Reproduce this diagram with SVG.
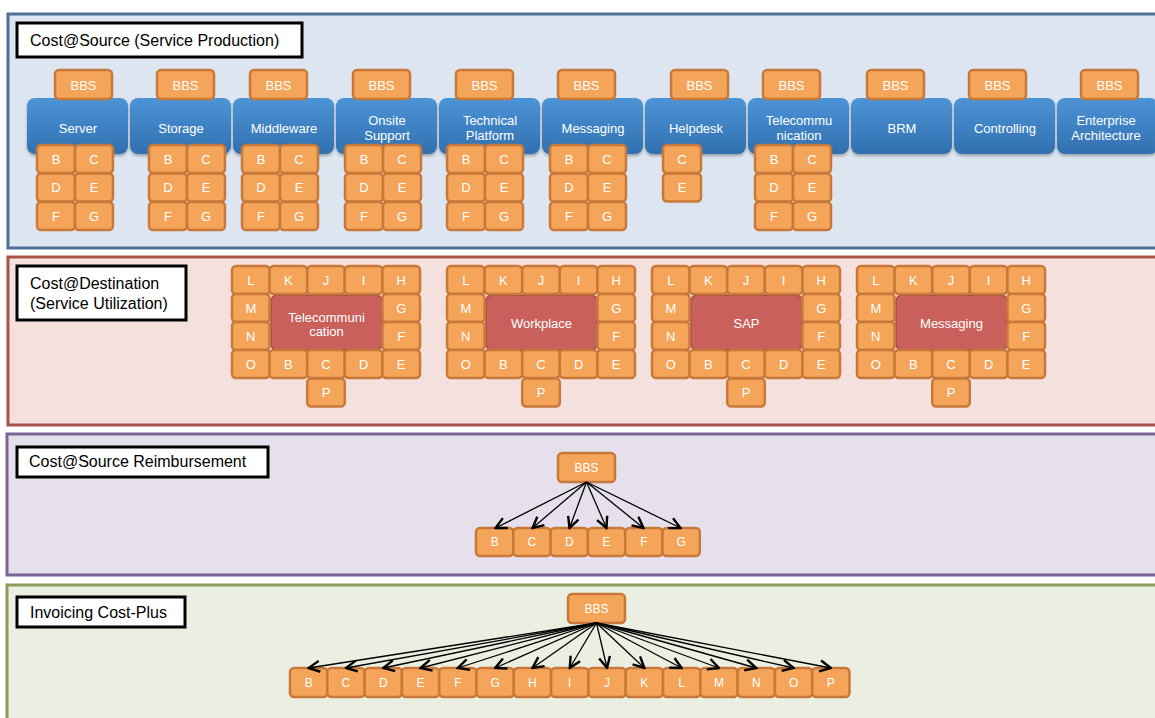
<svg xmlns="http://www.w3.org/2000/svg" width="1155" height="718" viewBox="0 0 1155 718">
<defs>
<linearGradient id="bg" x1="0" y1="0" x2="0" y2="1">
<stop offset="0" stop-color="#4c94d6"/>
<stop offset="1" stop-color="#3170b0"/>
</linearGradient>
<filter id="sh" x="-10%" y="-10%" width="120%" height="130%">
<feDropShadow dx="0" dy="2" stdDeviation="1.5" flood-color="#000" flood-opacity="0.3"/>
</filter>
<marker id="ah" viewBox="0 0 14 14" refX="12.5" refY="7" markerWidth="14" markerHeight="14" markerUnits="userSpaceOnUse" orient="auto">
<path d="M1.5,1.5 L12.5,7 L1.5,12.5" fill="none" stroke="#000" stroke-width="2.4"/>
</marker>
<style>
.o{fill:#f5a55a;stroke:#c8793a;stroke-width:2.5}
.t{font-family:"Liberation Sans",Arial,sans-serif;fill:#fff;text-anchor:middle;dominant-baseline:central;font-size:13px}
.s{font-size:12px}
.b{fill:url(#bg);filter:url(#sh)}
.ti{fill:#fff;stroke:#000;stroke-width:3}
.tt{font-family:"Liberation Sans",Arial,sans-serif;fill:#000;font-size:16px}
.c{fill:#c9605b;stroke:#a44c47;stroke-width:1.5}
.ar{stroke:#000;stroke-width:1.3;fill:none;marker-end:url(#ah)}
</style>
</defs>

<!-- sections -->
<rect x="8" y="14" width="1155" height="234" fill="#dde6f0" stroke="#4e6f98" stroke-width="3"/>
<rect x="8" y="257" width="1155" height="168" fill="#f4e0dd" stroke="#a9524c" stroke-width="3"/>
<rect x="7" y="434" width="1155" height="141" fill="#e5e0eb" stroke="#7a6395" stroke-width="3"/>
<rect x="7" y="585" width="1155" height="140" fill="#ebefe1" stroke="#8b9c59" stroke-width="3"/>

<!-- titles -->
<g id="title1"><rect class="ti" x="17" y="23" width="285" height="34"/><text class="tt" x="30" y="46">Cost@Source (Service Production)</text></g>
<g id="title2"><rect class="ti" x="17" y="266" width="169" height="54"/><text class="tt" x="30" y="289">Cost@Destination</text><text class="tt" x="30" y="309">(Service Utilization)</text></g>
<g id="title3"><rect class="ti" x="17" y="447" width="251" height="30"/><text class="tt" x="29" y="467">Cost@Source Reimbursement</text></g>
<g id="title4"><rect class="ti" x="17" y="597" width="168" height="30"/><text class="tt" x="30" y="618">Invoicing Cost-Plus</text></g>

<!-- section 1: services -->
<g id="svc-server">
<rect class="b" x="27" y="98" width="101" height="56" rx="8"/>
<text class="t" x="78" y="128">Server</text>
<rect class="o" x="55" y="70" width="57" height="29" rx="4"/><text class="t" x="83.5" y="85">BBS</text>
<rect class="o" x="37" y="145" width="38" height="28" rx="4"/><text class="t" x="56" y="159">B</text>
<rect class="o" x="75" y="145" width="38" height="28" rx="4"/><text class="t" x="94" y="159">C</text>
<rect class="o" x="37" y="173.5" width="38" height="28" rx="4"/><text class="t" x="56" y="187.5">D</text>
<rect class="o" x="75" y="173.5" width="38" height="28" rx="4"/><text class="t" x="94" y="187.5">E</text>
<rect class="o" x="37" y="202" width="38" height="28" rx="4"/><text class="t" x="56" y="216">F</text>
<rect class="o" x="75" y="202" width="38" height="28" rx="4"/><text class="t" x="94" y="216">G</text>
</g>
<g id="svc-storage">
<rect class="b" x="130" y="98" width="101" height="56" rx="8"/>
<text class="t" x="181" y="128">Storage</text>
<rect class="o" x="157" y="70" width="57" height="29" rx="4"/><text class="t" x="185.5" y="85">BBS</text>
<rect class="o" x="149" y="145" width="38" height="28" rx="4"/><text class="t" x="168" y="159">B</text>
<rect class="o" x="187" y="145" width="38" height="28" rx="4"/><text class="t" x="206" y="159">C</text>
<rect class="o" x="149" y="173.5" width="38" height="28" rx="4"/><text class="t" x="168" y="187.5">D</text>
<rect class="o" x="187" y="173.5" width="38" height="28" rx="4"/><text class="t" x="206" y="187.5">E</text>
<rect class="o" x="149" y="202" width="38" height="28" rx="4"/><text class="t" x="168" y="216">F</text>
<rect class="o" x="187" y="202" width="38" height="28" rx="4"/><text class="t" x="206" y="216">G</text>
</g>
<g id="svc-middleware">
<rect class="b" x="233" y="98" width="101" height="56" rx="8"/>
<text class="t" x="284" y="128">Middleware</text>
<rect class="o" x="250" y="70" width="57" height="29" rx="4"/><text class="t" x="278.5" y="85">BBS</text>
<rect class="o" x="242" y="145" width="38" height="28" rx="4"/><text class="t" x="261" y="159">B</text>
<rect class="o" x="280" y="145" width="38" height="28" rx="4"/><text class="t" x="299" y="159">C</text>
<rect class="o" x="242" y="173.5" width="38" height="28" rx="4"/><text class="t" x="261" y="187.5">D</text>
<rect class="o" x="280" y="173.5" width="38" height="28" rx="4"/><text class="t" x="299" y="187.5">E</text>
<rect class="o" x="242" y="202" width="38" height="28" rx="4"/><text class="t" x="261" y="216">F</text>
<rect class="o" x="280" y="202" width="38" height="28" rx="4"/><text class="t" x="299" y="216">G</text>
</g>
<g id="svc-onsite">
<rect class="b" x="336" y="98" width="101" height="56" rx="8"/>
<text class="t" x="387" y="120">Onsite</text><text class="t" x="387" y="135">Support</text>
<rect class="o" x="353" y="70" width="57" height="29" rx="4"/><text class="t" x="381.5" y="85">BBS</text>
<rect class="o" x="345" y="145" width="38" height="28" rx="4"/><text class="t" x="364" y="159">B</text>
<rect class="o" x="383" y="145" width="38" height="28" rx="4"/><text class="t" x="402" y="159">C</text>
<rect class="o" x="345" y="173.5" width="38" height="28" rx="4"/><text class="t" x="364" y="187.5">D</text>
<rect class="o" x="383" y="173.5" width="38" height="28" rx="4"/><text class="t" x="402" y="187.5">E</text>
<rect class="o" x="345" y="202" width="38" height="28" rx="4"/><text class="t" x="364" y="216">F</text>
<rect class="o" x="383" y="202" width="38" height="28" rx="4"/><text class="t" x="402" y="216">G</text>
</g>
<g id="svc-technical">
<rect class="b" x="439" y="98" width="101" height="56" rx="8"/>
<text class="t" x="490" y="120">Technical</text><text class="t" x="490" y="135">Platform</text>
<rect class="o" x="456" y="70" width="57" height="29" rx="4"/><text class="t" x="484.5" y="85">BBS</text>
<rect class="o" x="447" y="145" width="38" height="28" rx="4"/><text class="t" x="466" y="159">B</text>
<rect class="o" x="485" y="145" width="38" height="28" rx="4"/><text class="t" x="504" y="159">C</text>
<rect class="o" x="447" y="173.5" width="38" height="28" rx="4"/><text class="t" x="466" y="187.5">D</text>
<rect class="o" x="485" y="173.5" width="38" height="28" rx="4"/><text class="t" x="504" y="187.5">E</text>
<rect class="o" x="447" y="202" width="38" height="28" rx="4"/><text class="t" x="466" y="216">F</text>
<rect class="o" x="485" y="202" width="38" height="28" rx="4"/><text class="t" x="504" y="216">G</text>
</g>
<g id="svc-messaging">
<rect class="b" x="542" y="98" width="101" height="56" rx="8"/>
<text class="t" x="593" y="128">Messaging</text>
<rect class="o" x="558" y="70" width="57" height="29" rx="4"/><text class="t" x="586.5" y="85">BBS</text>
<rect class="o" x="550" y="145" width="38" height="28" rx="4"/><text class="t" x="569" y="159">B</text>
<rect class="o" x="588" y="145" width="38" height="28" rx="4"/><text class="t" x="607" y="159">C</text>
<rect class="o" x="550" y="173.5" width="38" height="28" rx="4"/><text class="t" x="569" y="187.5">D</text>
<rect class="o" x="588" y="173.5" width="38" height="28" rx="4"/><text class="t" x="607" y="187.5">E</text>
<rect class="o" x="550" y="202" width="38" height="28" rx="4"/><text class="t" x="569" y="216">F</text>
<rect class="o" x="588" y="202" width="38" height="28" rx="4"/><text class="t" x="607" y="216">G</text>
</g>
<g id="svc-helpdesk">
<rect class="b" x="645" y="98" width="101" height="56" rx="8"/>
<text class="t" x="696" y="128">Helpdesk</text>
<rect class="o" x="671" y="70" width="57" height="29" rx="4"/><text class="t" x="699.5" y="85">BBS</text>
<rect class="o" x="663" y="145" width="38" height="28" rx="4"/><text class="t" x="682" y="159">C</text>
<rect class="o" x="663" y="173.5" width="38" height="28" rx="4"/><text class="t" x="682" y="187.5">E</text>
</g>
<g id="svc-telecom">
<rect class="b" x="748" y="98" width="101" height="56" rx="8"/>
<text class="t" x="799" y="120">Telecommu</text><text class="t" x="799" y="135">nication</text>
<rect class="o" x="763" y="70" width="57" height="29" rx="4"/><text class="t" x="791.5" y="85">BBS</text>
<rect class="o" x="755" y="145" width="38" height="28" rx="4"/><text class="t" x="774" y="159">B</text>
<rect class="o" x="793" y="145" width="38" height="28" rx="4"/><text class="t" x="812" y="159">C</text>
<rect class="o" x="755" y="173.5" width="38" height="28" rx="4"/><text class="t" x="774" y="187.5">D</text>
<rect class="o" x="793" y="173.5" width="38" height="28" rx="4"/><text class="t" x="812" y="187.5">E</text>
<rect class="o" x="755" y="202" width="38" height="28" rx="4"/><text class="t" x="774" y="216">F</text>
<rect class="o" x="793" y="202" width="38" height="28" rx="4"/><text class="t" x="812" y="216">G</text>
</g>
<g id="svc-brm">
<rect class="b" x="851" y="98" width="101" height="56" rx="8"/>
<text class="t" x="902" y="128">BRM</text>
<rect class="o" x="867" y="70" width="57" height="29" rx="4"/><text class="t" x="895.5" y="85">BBS</text>
</g>
<g id="svc-controlling">
<rect class="b" x="954" y="98" width="101" height="56" rx="8"/>
<text class="t" x="1005" y="128">Controlling</text>
<rect class="o" x="969" y="70" width="57" height="29" rx="4"/><text class="t" x="997.5" y="85">BBS</text>
</g>
<g id="svc-ea">
<rect class="b" x="1057" y="98" width="101" height="56" rx="8"/>
<text class="t" x="1106" y="120">Enterprise</text><text class="t" x="1106" y="135">Architecture</text>
<rect class="o" x="1081" y="70" width="57" height="29" rx="4"/><text class="t" x="1109.5" y="85">BBS</text>
</g>

<!-- section 2: destinations -->
<g id="dest-telecom" transform="translate(232,0)">
<rect class="c" x="39" y="295" width="111" height="55" rx="6"/>
<text class="t" x="94.5" y="317">Telecommuni</text><text class="t" x="94.5" y="331">cation</text>
<rect class="o" x="0" y="266" width="37.6" height="28" rx="4"/><text class="t" x="18.8" y="280">L</text>
<rect class="o" x="37.6" y="266" width="37.6" height="28" rx="4"/><text class="t" x="56.4" y="280">K</text>
<rect class="o" x="75.2" y="266" width="37.6" height="28" rx="4"/><text class="t" x="94" y="280">J</text>
<rect class="o" x="112.8" y="266" width="37.6" height="28" rx="4"/><text class="t" x="131.6" y="280">I</text>
<rect class="o" x="150.4" y="266" width="37.6" height="28" rx="4"/><text class="t" x="169.2" y="280">H</text>
<rect class="o" x="0" y="294" width="37.6" height="28" rx="4"/><text class="t" x="18.8" y="308">M</text>
<rect class="o" x="150.4" y="294" width="37.6" height="28" rx="4"/><text class="t" x="169.2" y="308">G</text>
<rect class="o" x="0" y="322" width="37.6" height="28" rx="4"/><text class="t" x="18.8" y="336">N</text>
<rect class="o" x="150.4" y="322" width="37.6" height="28" rx="4"/><text class="t" x="169.2" y="336">F</text>
<rect class="o" x="0" y="350" width="37.6" height="28" rx="4"/><text class="t" x="18.8" y="364">O</text>
<rect class="o" x="37.6" y="350" width="37.6" height="28" rx="4"/><text class="t" x="56.4" y="364">B</text>
<rect class="o" x="75.2" y="350" width="37.6" height="28" rx="4"/><text class="t" x="94" y="364">C</text>
<rect class="o" x="112.8" y="350" width="37.6" height="28" rx="4"/><text class="t" x="131.6" y="364">D</text>
<rect class="o" x="150.4" y="350" width="37.6" height="28" rx="4"/><text class="t" x="169.2" y="364">E</text>
<rect class="o" x="75.2" y="378.5" width="37.6" height="28" rx="4"/><text class="t" x="94" y="392.5">P</text>
</g>
<g id="dest-workplace" transform="translate(447,0)">
<rect class="c" x="39" y="295" width="111" height="55" rx="6"/>
<text class="t" x="94.5" y="323.5">Workplace</text>
<rect class="o" x="0" y="266" width="37.6" height="28" rx="4"/><text class="t" x="18.8" y="280">L</text>
<rect class="o" x="37.6" y="266" width="37.6" height="28" rx="4"/><text class="t" x="56.4" y="280">K</text>
<rect class="o" x="75.2" y="266" width="37.6" height="28" rx="4"/><text class="t" x="94" y="280">J</text>
<rect class="o" x="112.8" y="266" width="37.6" height="28" rx="4"/><text class="t" x="131.6" y="280">I</text>
<rect class="o" x="150.4" y="266" width="37.6" height="28" rx="4"/><text class="t" x="169.2" y="280">H</text>
<rect class="o" x="0" y="294" width="37.6" height="28" rx="4"/><text class="t" x="18.8" y="308">M</text>
<rect class="o" x="150.4" y="294" width="37.6" height="28" rx="4"/><text class="t" x="169.2" y="308">G</text>
<rect class="o" x="0" y="322" width="37.6" height="28" rx="4"/><text class="t" x="18.8" y="336">N</text>
<rect class="o" x="150.4" y="322" width="37.6" height="28" rx="4"/><text class="t" x="169.2" y="336">F</text>
<rect class="o" x="0" y="350" width="37.6" height="28" rx="4"/><text class="t" x="18.8" y="364">O</text>
<rect class="o" x="37.6" y="350" width="37.6" height="28" rx="4"/><text class="t" x="56.4" y="364">B</text>
<rect class="o" x="75.2" y="350" width="37.6" height="28" rx="4"/><text class="t" x="94" y="364">C</text>
<rect class="o" x="112.8" y="350" width="37.6" height="28" rx="4"/><text class="t" x="131.6" y="364">D</text>
<rect class="o" x="150.4" y="350" width="37.6" height="28" rx="4"/><text class="t" x="169.2" y="364">E</text>
<rect class="o" x="75.2" y="378.5" width="37.6" height="28" rx="4"/><text class="t" x="94" y="392.5">P</text>
</g>
<g id="dest-sap" transform="translate(652,0)">
<rect class="c" x="39" y="295" width="111" height="55" rx="6"/>
<text class="t" x="94.5" y="323.5">SAP</text>
<rect class="o" x="0" y="266" width="37.6" height="28" rx="4"/><text class="t" x="18.8" y="280">L</text>
<rect class="o" x="37.6" y="266" width="37.6" height="28" rx="4"/><text class="t" x="56.4" y="280">K</text>
<rect class="o" x="75.2" y="266" width="37.6" height="28" rx="4"/><text class="t" x="94" y="280">J</text>
<rect class="o" x="112.8" y="266" width="37.6" height="28" rx="4"/><text class="t" x="131.6" y="280">I</text>
<rect class="o" x="150.4" y="266" width="37.6" height="28" rx="4"/><text class="t" x="169.2" y="280">H</text>
<rect class="o" x="0" y="294" width="37.6" height="28" rx="4"/><text class="t" x="18.8" y="308">M</text>
<rect class="o" x="150.4" y="294" width="37.6" height="28" rx="4"/><text class="t" x="169.2" y="308">G</text>
<rect class="o" x="0" y="322" width="37.6" height="28" rx="4"/><text class="t" x="18.8" y="336">N</text>
<rect class="o" x="150.4" y="322" width="37.6" height="28" rx="4"/><text class="t" x="169.2" y="336">F</text>
<rect class="o" x="0" y="350" width="37.6" height="28" rx="4"/><text class="t" x="18.8" y="364">O</text>
<rect class="o" x="37.6" y="350" width="37.6" height="28" rx="4"/><text class="t" x="56.4" y="364">B</text>
<rect class="o" x="75.2" y="350" width="37.6" height="28" rx="4"/><text class="t" x="94" y="364">C</text>
<rect class="o" x="112.8" y="350" width="37.6" height="28" rx="4"/><text class="t" x="131.6" y="364">D</text>
<rect class="o" x="150.4" y="350" width="37.6" height="28" rx="4"/><text class="t" x="169.2" y="364">E</text>
<rect class="o" x="75.2" y="378.5" width="37.6" height="28" rx="4"/><text class="t" x="94" y="392.5">P</text>
</g>
<g id="dest-messaging" transform="translate(857,0)">
<rect class="c" x="39" y="295" width="111" height="55" rx="6"/>
<text class="t" x="94.5" y="323.5">Messaging</text>
<rect class="o" x="0" y="266" width="37.6" height="28" rx="4"/><text class="t" x="18.8" y="280">L</text>
<rect class="o" x="37.6" y="266" width="37.6" height="28" rx="4"/><text class="t" x="56.4" y="280">K</text>
<rect class="o" x="75.2" y="266" width="37.6" height="28" rx="4"/><text class="t" x="94" y="280">J</text>
<rect class="o" x="112.8" y="266" width="37.6" height="28" rx="4"/><text class="t" x="131.6" y="280">I</text>
<rect class="o" x="150.4" y="266" width="37.6" height="28" rx="4"/><text class="t" x="169.2" y="280">H</text>
<rect class="o" x="0" y="294" width="37.6" height="28" rx="4"/><text class="t" x="18.8" y="308">M</text>
<rect class="o" x="150.4" y="294" width="37.6" height="28" rx="4"/><text class="t" x="169.2" y="308">G</text>
<rect class="o" x="0" y="322" width="37.6" height="28" rx="4"/><text class="t" x="18.8" y="336">N</text>
<rect class="o" x="150.4" y="322" width="37.6" height="28" rx="4"/><text class="t" x="169.2" y="336">F</text>
<rect class="o" x="0" y="350" width="37.6" height="28" rx="4"/><text class="t" x="18.8" y="364">O</text>
<rect class="o" x="37.6" y="350" width="37.6" height="28" rx="4"/><text class="t" x="56.4" y="364">B</text>
<rect class="o" x="75.2" y="350" width="37.6" height="28" rx="4"/><text class="t" x="94" y="364">C</text>
<rect class="o" x="112.8" y="350" width="37.6" height="28" rx="4"/><text class="t" x="131.6" y="364">D</text>
<rect class="o" x="150.4" y="350" width="37.6" height="28" rx="4"/><text class="t" x="169.2" y="364">E</text>
<rect class="o" x="75.2" y="378.5" width="37.6" height="28" rx="4"/><text class="t" x="94" y="392.5">P</text>
</g>

<!-- section 3: reimbursement -->
<g id="reimb-bbs"><rect class="o" x="558" y="453" width="57" height="29" rx="4"/><text class="t s" x="586.5" y="468">BBS</text></g>
<g id="reimb-cells">
<rect class="o" x="476" y="528" width="37.3" height="28" rx="4"/><text class="t s" x="494.65" y="542">B</text>
<rect class="o" x="513.3" y="528" width="37.3" height="28" rx="4"/><text class="t s" x="531.95" y="542">C</text>
<rect class="o" x="550.6" y="528" width="37.3" height="28" rx="4"/><text class="t s" x="569.25" y="542">D</text>
<rect class="o" x="587.9" y="528" width="37.3" height="28" rx="4"/><text class="t s" x="606.55" y="542">E</text>
<rect class="o" x="625.2" y="528" width="37.3" height="28" rx="4"/><text class="t s" x="643.85" y="542">F</text>
<rect class="o" x="662.5" y="528" width="37.3" height="28" rx="4"/><text class="t s" x="681.15" y="542">G</text>
</g>

<!-- section 4: invoicing -->
<g id="inv-bbs"><rect class="o" x="568" y="594" width="57" height="29" rx="4"/><text class="t s" x="596.5" y="609">BBS</text></g>
<g id="inv-cells">
<rect class="o" x="290" y="668" width="37.3" height="29" rx="4"/><text class="t s" x="308.65" y="682.5">B</text>
<rect class="o" x="327.3" y="668" width="37.3" height="29" rx="4"/><text class="t s" x="345.95" y="682.5">C</text>
<rect class="o" x="364.6" y="668" width="37.3" height="29" rx="4"/><text class="t s" x="383.25" y="682.5">D</text>
<rect class="o" x="401.9" y="668" width="37.3" height="29" rx="4"/><text class="t s" x="420.55" y="682.5">E</text>
<rect class="o" x="439.2" y="668" width="37.3" height="29" rx="4"/><text class="t s" x="457.85" y="682.5">F</text>
<rect class="o" x="476.5" y="668" width="37.3" height="29" rx="4"/><text class="t s" x="495.15" y="682.5">G</text>
<rect class="o" x="513.8" y="668" width="37.3" height="29" rx="4"/><text class="t s" x="532.45" y="682.5">H</text>
<rect class="o" x="551.1" y="668" width="37.3" height="29" rx="4"/><text class="t s" x="569.75" y="682.5">I</text>
<rect class="o" x="588.4" y="668" width="37.3" height="29" rx="4"/><text class="t s" x="607.05" y="682.5">J</text>
<rect class="o" x="625.7" y="668" width="37.3" height="29" rx="4"/><text class="t s" x="644.35" y="682.5">K</text>
<rect class="o" x="663" y="668" width="37.3" height="29" rx="4"/><text class="t s" x="681.65" y="682.5">L</text>
<rect class="o" x="700.3" y="668" width="37.3" height="29" rx="4"/><text class="t s" x="718.95" y="682.5">M</text>
<rect class="o" x="737.6" y="668" width="37.3" height="29" rx="4"/><text class="t s" x="756.25" y="682.5">N</text>
<rect class="o" x="774.9" y="668" width="37.3" height="29" rx="4"/><text class="t s" x="793.55" y="682.5">O</text>
<rect class="o" x="812.2" y="668" width="37.3" height="29" rx="4"/><text class="t s" x="830.85" y="682.5">P</text>
</g>

<!-- connectors -->
<g id="connectors">
<line class="ar" x1="586.5" y1="482" x2="495.5" y2="528"/>
<line class="ar" x1="586.5" y1="482" x2="532.5" y2="528"/>
<line class="ar" x1="586.5" y1="482" x2="569.5" y2="528"/>
<line class="ar" x1="586.5" y1="482" x2="606.5" y2="528"/>
<line class="ar" x1="586.5" y1="482" x2="643.5" y2="528"/>
<line class="ar" x1="586.5" y1="482" x2="680.5" y2="528"/>
<line class="ar" x1="596.5" y1="623" x2="308.65" y2="668"/>
<line class="ar" x1="596.5" y1="623" x2="345.95" y2="668"/>
<line class="ar" x1="596.5" y1="623" x2="383.25" y2="668"/>
<line class="ar" x1="596.5" y1="623" x2="420.55" y2="668"/>
<line class="ar" x1="596.5" y1="623" x2="457.85" y2="668"/>
<line class="ar" x1="596.5" y1="623" x2="495.15" y2="668"/>
<line class="ar" x1="596.5" y1="623" x2="532.45" y2="668"/>
<line class="ar" x1="596.5" y1="623" x2="569.75" y2="668"/>
<line class="ar" x1="596.5" y1="623" x2="607.05" y2="668"/>
<line class="ar" x1="596.5" y1="623" x2="644.35" y2="668"/>
<line class="ar" x1="596.5" y1="623" x2="681.65" y2="668"/>
<line class="ar" x1="596.5" y1="623" x2="718.95" y2="668"/>
<line class="ar" x1="596.5" y1="623" x2="756.25" y2="668"/>
<line class="ar" x1="596.5" y1="623" x2="793.55" y2="668"/>
<line class="ar" x1="596.5" y1="623" x2="830.85" y2="668"/>
</g>
</svg>
